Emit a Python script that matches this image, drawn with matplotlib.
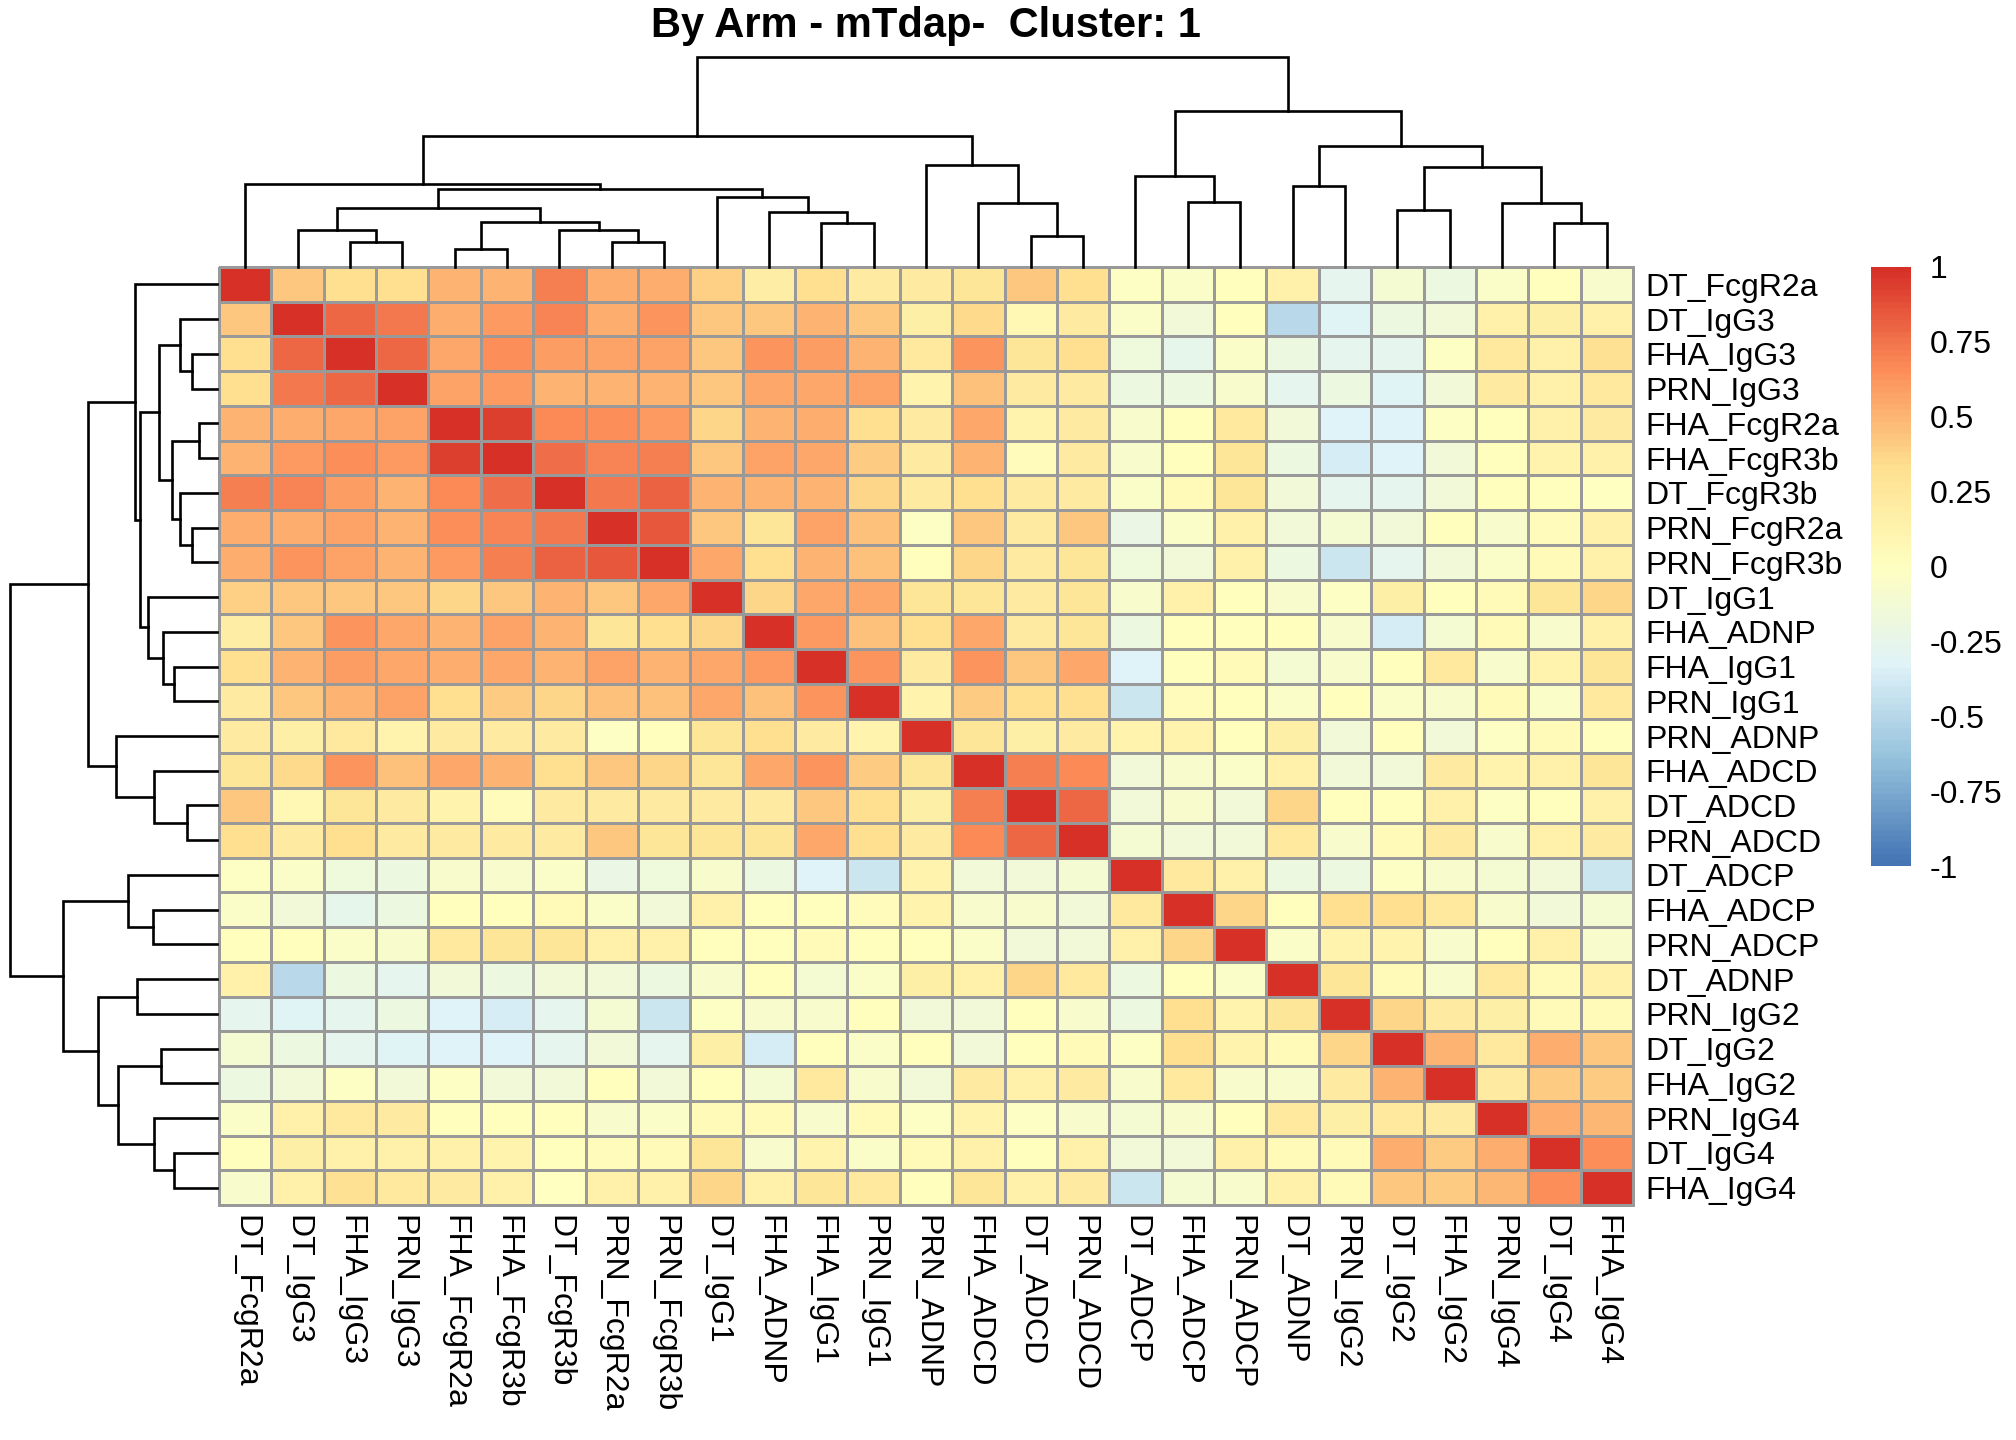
import numpy as np
import matplotlib
matplotlib.use("Agg")
import matplotlib.pyplot as plt
from matplotlib.colors import LinearSegmentedColormap, ListedColormap, Normalize

plt.rcParams['font.family'] = ['Liberation Sans', 'DejaVu Sans']

### DATA ###

title = "By Arm - mTdap-  Cluster: 1"

labels = ["DT_FcgR2a", "DT_IgG3", "FHA_IgG3", "PRN_IgG3", "FHA_FcgR2a", "FHA_FcgR3b",
          "DT_FcgR3b", "PRN_FcgR2a", "PRN_FcgR3b", "DT_IgG1", "FHA_ADNP", "FHA_IgG1",
          "PRN_IgG1", "PRN_ADNP", "FHA_ADCD", "DT_ADCD", "PRN_ADCD", "DT_ADCP",
          "FHA_ADCP", "PRN_ADCP", "DT_ADNP", "PRN_IgG2", "DT_IgG2", "FHA_IgG2",
          "PRN_IgG4", "DT_IgG4", "FHA_IgG4"]

# upper triangle of the correlation matrix (row i holds columns i+1 .. 26)
corr_upper = [
    [0.42, 0.33, 0.32, 0.5, 0.5, 0.7, 0.53, 0.52, 0.38, 0.18, 0.33, 0.2, 0.2, 0.27, 0.43, 0.32, -0.03, -0.05, 0.0, 0.15, -0.28, -0.12, -0.2, -0.05, 0.0, -0.08],
    [0.78, 0.72, 0.53, 0.6, 0.68, 0.53, 0.62, 0.42, 0.42, 0.5, 0.42, 0.17, 0.35, 0.07, 0.2, -0.05, -0.15, 0.0, -0.5, -0.32, -0.2, -0.15, 0.15, 0.17, 0.15],
    [0.79, 0.55, 0.64, 0.58, 0.56, 0.56, 0.42, 0.63, 0.58, 0.5, 0.22, 0.63, 0.27, 0.33, -0.17, -0.25, -0.05, -0.2, -0.27, -0.27, -0.03, 0.22, 0.15, 0.3],
    [0.57, 0.6, 0.5, 0.5, 0.5, 0.42, 0.54, 0.54, 0.57, 0.13, 0.44, 0.2, 0.2, -0.2, -0.2, -0.08, -0.28, -0.2, -0.32, -0.15, 0.2, 0.15, 0.22],
    [0.92, 0.67, 0.65, 0.6, 0.37, 0.5, 0.52, 0.33, 0.2, 0.54, 0.13, 0.2, -0.08, 0.0, 0.22, -0.15, -0.33, -0.33, -0.03, 0.0, 0.15, 0.2],
    [0.76, 0.68, 0.71, 0.42, 0.57, 0.54, 0.4, 0.2, 0.5, 0.03, 0.2, -0.08, 0.0, 0.27, -0.2, -0.38, -0.33, -0.15, 0.0, 0.13, 0.15],
    [0.72, 0.8, 0.5, 0.5, 0.5, 0.37, 0.2, 0.33, 0.2, 0.2, -0.06, 0.05, 0.27, -0.15, -0.28, -0.28, -0.15, 0.0, 0.0, -0.02],
    [0.84, 0.42, 0.27, 0.57, 0.45, -0.03, 0.42, 0.2, 0.42, -0.22, -0.05, 0.15, -0.15, -0.12, -0.15, 0.0, -0.08, 0.03, 0.15],
    [0.54, 0.33, 0.5, 0.45, 0.0, 0.37, 0.2, 0.27, -0.17, -0.15, 0.15, -0.2, -0.42, -0.28, -0.15, -0.05, 0.05, 0.15],
    [0.37, 0.55, 0.55, 0.27, 0.27, 0.2, 0.27, -0.08, 0.15, 0.0, -0.08, -0.04, 0.17, 0.0, 0.05, 0.27, 0.37],
    [0.6, 0.45, 0.33, 0.54, 0.2, 0.27, -0.2, 0.0, 0.0, 0.0, -0.08, -0.38, -0.12, 0.05, -0.08, 0.15],
    [0.63, 0.2, 0.63, 0.42, 0.54, -0.33, 0.0, 0.05, -0.12, -0.08, 0.0, 0.22, -0.08, 0.12, 0.27],
    [0.13, 0.4, 0.33, 0.33, -0.42, 0.02, 0.0, -0.05, 0.0, -0.05, -0.08, 0.05, -0.05, 0.22],
    [0.27, 0.17, 0.2, 0.12, 0.12, 0.0, 0.17, -0.15, 0.0, -0.15, -0.03, 0.05, 0.0],
    [0.7, 0.67, -0.15, -0.08, -0.05, 0.15, -0.15, -0.15, 0.2, 0.12, 0.15, 0.27],
    [0.79, -0.15, -0.08, -0.15, 0.37, 0.0, 0.0, 0.15, -0.03, 0.0, 0.15],
    [-0.12, -0.15, -0.15, 0.22, -0.08, 0.05, 0.2, -0.08, 0.15, 0.2],
    [0.22, 0.15, -0.2, -0.2, -0.03, -0.08, -0.12, -0.15, -0.42],
    [0.37, 0.0, 0.33, 0.33, 0.22, -0.08, -0.15, -0.12],
    [-0.05, 0.13, 0.13, -0.08, 0.0, 0.15, -0.08],
    [0.27, 0.05, -0.08, 0.22, 0.05, 0.15],
    [0.37, 0.2, 0.17, 0.05, 0.04],
    [0.5, 0.22, 0.52, 0.43],
    [0.2, 0.4, 0.4],
    [0.52, 0.48],
    [0.64],
]

# hierarchical clustering merges: node 27+k joins merge_left[k] and merge_right[k]
merge_left = [4, 2, 7, 15, 1, 6, 11, 25, 27, 10, 22, 31, 14, 24, 18, 9, 38, 20, 0, 17, 37, 13, 44, 45, 46, 50]
merge_right = [5, 3, 8, 16, 28, 29, 12, 26, 32, 33, 23, 35, 30, 34, 19, 36, 42, 21, 43, 41, 40, 39, 47, 48, 49, 51]
merge_height = [54, 75, 75, 92, 111, 111, 131, 131, 135, 163, 170, 176, 189, 189, 192, 209,
                233, 242, 247, 270, 299, 304, 360, 390, 464, 625]

legend_ticks = [-1, -0.75, -0.5, -0.25, 0, 0.25, 0.5, 0.75, 1]
legend_labels = ["-1", "-0.75", "-0.5", "-0.25", "0", "0.25", "0.5", "0.75", "1"]

### BUILD MATRIX ###

n = len(labels)
mat = np.eye(n)
for i, row in enumerate(corr_upper):
    for k, v in enumerate(row):
        j = i + 1 + k
        mat[i, j] = v
        mat[j, i] = v

base = LinearSegmentedColormap.from_list(
    "rdylbu", ["#4575B4", "#91BFDB", "#E0F3F8", "#FFFFBF", "#FEE090", "#FC8D59", "#D73027"])
cmap = ListedColormap([base(i / 99) for i in range(100)])
norm = Normalize(-1, 1)

### FIGURE ###

W, H = 2016, 1440
fig = plt.figure(figsize=(W / 100, H / 100), dpi=100)

hm_l, hm_r, hm_t, hm_b = 219, 1633, 267, 1205


def fa(x0, y0, x1, y1):
    # pixel box (top-left origin) to figure fraction
    return [x0 / W, 1 - y1 / H, (x1 - x0) / W, (y1 - y0) / H]


ax = fig.add_axes(fa(hm_l, hm_t, hm_r, hm_b))
mesh = ax.pcolormesh(np.arange(n + 1), np.arange(n + 1), mat, cmap=cmap, norm=norm,
                     edgecolors="#999999", linewidth=2.0)
mesh.set_clip_on(False)
ax.set_xlim(0, n)
ax.set_ylim(n, 0)
for s in ax.spines.values():
    s.set_visible(False)

ax.yaxis.tick_right()
ax.set_yticks(np.arange(n) + 0.5)
ax.set_yticklabels(labels, fontsize=23)
ax.set_xticks(np.arange(n) + 0.5)
ax.set_xticklabels(labels, fontsize=23, rotation=270, ha="center", va="top")
ax.tick_params(axis="both", length=0)
ax.tick_params(axis="y", pad=9)
ax.tick_params(axis="x", pad=7)

# dendrogram coordinates
pos = {i: i + 0.5 for i in range(n)}
hgt = {i: 0.0 for i in range(n)}
segs = []
for k, (a, b, h) in enumerate(zip(merge_left, merge_right, merge_height)):
    node = n + k
    segs.append((pos[a], hgt[a], pos[b], hgt[b], h))
    pos[node] = (pos[a] + pos[b]) / 2
    hgt[node] = h
hmax = max(merge_height)

# top dendrogram
axt = fig.add_axes(fa(hm_l, 57, hm_r, hm_t))
for x1, h1, x2, h2, h in segs:
    axt.plot([x1, x1, x2, x2], [h1, h, h, h2], color="black", lw=1.9,
             solid_capstyle="projecting", solid_joinstyle="miter", clip_on=False)
axt.set_xlim(0, n)
axt.set_ylim(0, hmax)
axt.axis("off")

# left dendrogram
axl = fig.add_axes(fa(10, hm_t, 217, hm_b))
for y1, h1, y2, h2, h in segs:
    axl.plot([h1, h, h, h2], [y1, y1, y2, y2], color="black", lw=1.9,
             solid_capstyle="projecting", solid_joinstyle="miter", clip_on=False)
axl.set_ylim(n, 0)
axl.set_xlim(hmax, 0)
axl.axis("off")

# legend
cax = fig.add_axes(fa(1871, 267, 1910, 866))
cax.imshow(np.linspace(-1, 1, 200)[:, None], aspect="auto", cmap=cmap, norm=norm,
           origin="lower", extent=[0, 1, -1, 1])
cax.set_xticks([])
cax.yaxis.tick_right()
cax.set_yticks(legend_ticks)
cax.set_yticklabels(legend_labels, fontsize=23)
cax.tick_params(axis="y", length=0, pad=14)
for s in cax.spines.values():
    s.set_visible(False)

fig.text(926 / W, 1 - 26 / H, title, ha="center", va="center", fontsize=30, fontweight="bold")

fig.savefig("out.png", dpi=100)
